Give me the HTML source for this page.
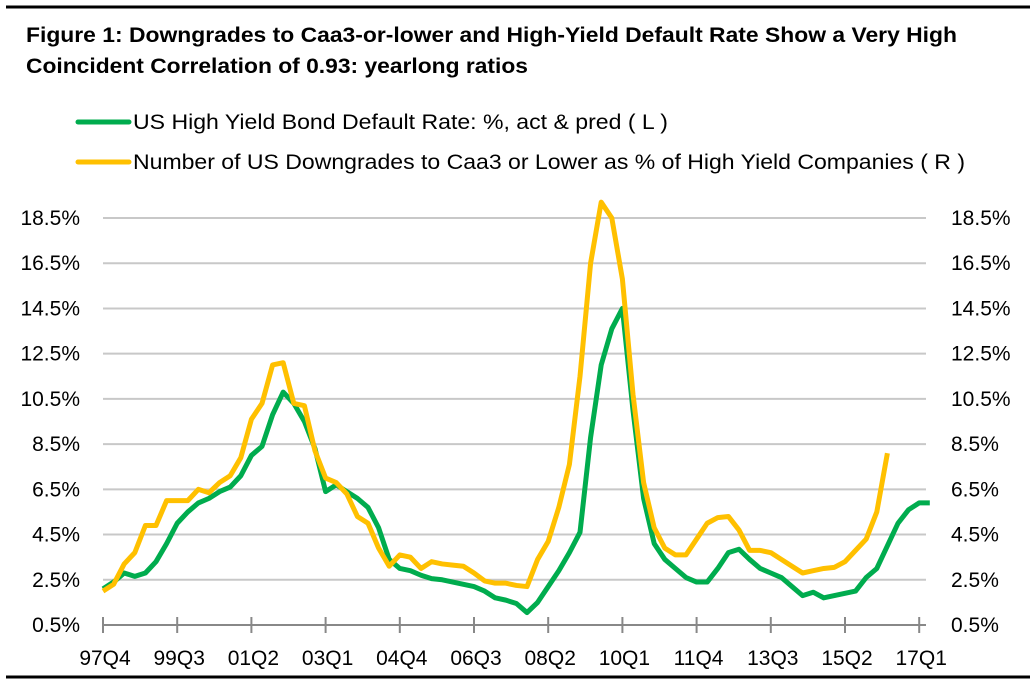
<!DOCTYPE html>
<html><head><meta charset="utf-8"><style>
body{margin:0;background:#fff;}
svg{display:block;font-family:"Liberation Sans",sans-serif;}
</style></head><body>
<svg id="c" width="1036" height="683" viewBox="0 0 1036 683">
<line x1="6" y1="7" x2="1030" y2="7" stroke="#000" stroke-width="3"/>
<line x1="6" y1="677" x2="1030" y2="677" stroke="#000" stroke-width="3"/>
<text x="26" y="42" font-size="21" font-weight="bold" textLength="931" lengthAdjust="spacingAndGlyphs">Figure 1: Downgrades to Caa3-or-lower and High-Yield Default Rate Show a Very High</text>
<text x="26" y="73" font-size="21" font-weight="bold" textLength="502" lengthAdjust="spacingAndGlyphs">Coincident Correlation of 0.93: yearlong ratios</text>
<g>
<line x1="78" y1="122" x2="129" y2="122" stroke="#00ac4e" stroke-width="5" stroke-linecap="round"/>
<text x="133" y="129" font-size="21" textLength="535" lengthAdjust="spacingAndGlyphs">US High Yield Bond Default Rate: %, act &amp; pred ( L )</text></g>
<g>
<line x1="78" y1="162" x2="129" y2="162" stroke="#ffc000" stroke-width="5" stroke-linecap="round"/>
<text x="133" y="169" font-size="21" textLength="832" lengthAdjust="spacingAndGlyphs">Number of US Downgrades to Caa3 or Lower as % of High Yield Companies ( R )</text></g>
<g id="grid"></g><g id="axes"></g><g id="series"></g>
</svg>
<script>
const ticksY=[0.5,2.5,4.5,6.5,8.5,10.5,12.5,14.5,16.5,18.5];
const tickLabelsX=["97Q4","99Q3","01Q2","03Q1","04Q4","06Q3","08Q2","10Q1","11Q4","13Q3","15Q2","17Q1"];
const defaultRate=[2.1,2.4,2.8,2.65,2.8,3.3,4.1,5.0,5.5,5.9,6.1,6.4,6.6,7.1,8.0,8.4,9.8,10.8,10.3,9.5,8.3,6.4,6.7,6.4,6.1,5.7,4.8,3.4,3.0,2.9,2.7,2.55,2.5,2.4,2.3,2.2,2.0,1.7,1.6,1.45,1.05,1.5,2.2,2.9,3.7,4.6,8.8,12.0,13.6,14.5,10.0,6.1,4.1,3.4,3.0,2.6,2.4,2.4,3.0,3.7,3.85,3.4,3.0,2.8,2.6,2.2,1.8,1.95,1.7,1.8,1.9,2.0,2.6,3.0,4.0,5.0,5.6,5.9,5.9];
const downgrades=[2.0,2.3,3.2,3.7,4.9,4.9,6.0,6.0,6.0,6.5,6.35,6.8,7.1,7.9,9.6,10.3,12.0,12.1,10.3,10.2,8.2,7.0,6.8,6.3,5.3,5.0,3.9,3.1,3.6,3.5,3.0,3.3,3.2,3.15,3.1,2.8,2.45,2.35,2.35,2.25,2.2,3.4,4.2,5.7,7.6,11.5,16.5,19.2,18.5,15.8,10.7,6.8,4.8,3.9,3.6,3.6,4.3,5.0,5.25,5.3,4.7,3.8,3.8,3.7,3.4,3.1,2.8,2.9,3.0,3.05,3.3,3.8,4.3,5.5,8.1];
const NS="http://www.w3.org/2000/svg";
const x0=103,xStep=74.2/7,yBase=625,yPer=(625-218)/18;
const X=i=>x0+i*xStep, Y=v=>yBase-(v-0.5)*yPer;
function mk(t,a,p){const e=document.createElementNS(NS,t);for(const k in a)e.setAttribute(k,a[k]);p.appendChild(e);return e;}
const grid=document.getElementById('grid'),axes=document.getElementById('axes'),ser=document.getElementById('series');
ticksY.forEach(v=>{
 if(v>0.5){const g=mk('line',{x1:103,x2:926,y1:Y(v),y2:Y(v),stroke:'#c8c8c8','stroke-width':2},grid);
 
 }
 const l=mk('text',{x:80,y:Y(v)+7,'font-size':21,'text-anchor':'end'},axes);l.textContent=v.toFixed(1)+'%';
 
 
 const r=mk('text',{x:951,y:Y(v)+7,'font-size':21},axes);r.textContent=v.toFixed(1)+'%';
 
 
});
const ax=mk('line',{x1:103,x2:926,y1:625,y2:625,stroke:'#888','stroke-width':2},axes);


tickLabelsX.forEach((s,k)=>{const x=X(k*7);
 const t=mk('line',{x1:x,x2:x,y1:617,y2:633,stroke:'#888','stroke-width':2},axes);
 
 
 const l=mk('text',{x:x+2,y:665,'font-size':21,'text-anchor':'middle'},axes);l.textContent=s;
 
 
});
function line(d,c,n){const p=mk('polyline',{points:d.map((v,i)=>X(i)+','+Y(v)).join(' '),fill:'none',stroke:c,'stroke-width':5,'stroke-linejoin':'round'},ser);
 
 }
line(defaultRate,'#00ac4e','default-rate-line');
line(downgrades,'#ffc000','downgrades-line');
</script>
</body></html>
